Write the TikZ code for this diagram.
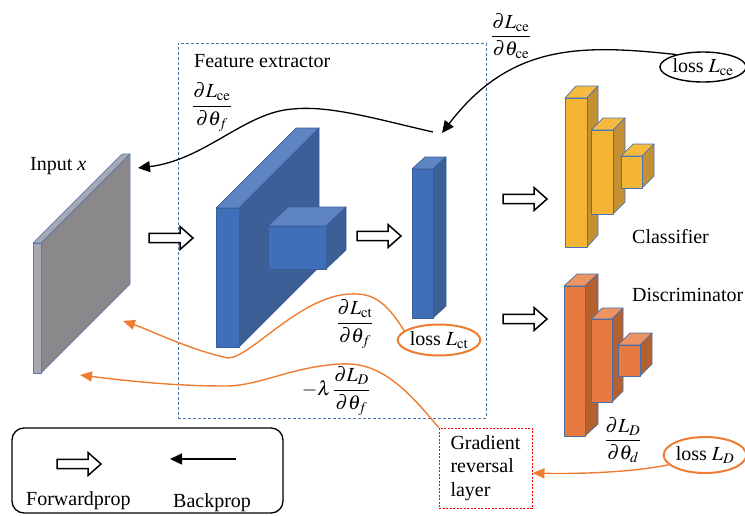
\documentclass[tikz,border=0pt]{standalone}
\usepackage{amsmath}
\usepackage{mathptmx}
\usepackage[no-math]{fontspec}
\setmainfont{Liberation Serif}
\usetikzlibrary{shapes.geometric,arrows.meta}
\newcommand{\fsz}{\fontsize{20}{23.5}\selectfont}
\definecolor{grayside}{HTML}{8B888B}
\definecolor{grayfront}{HTML}{A7A9B2}
\definecolor{grayedge}{HTML}{5B7AB0}
\definecolor{bfront}{HTML}{3F6FB8}
\definecolor{bside}{HTML}{3C5F97}
\definecolor{btop}{HTML}{5E84C4}
\definecolor{bedge}{HTML}{3A5E9A}
\definecolor{yfront}{HTML}{F4B536}
\definecolor{yside}{HTML}{C39134}
\definecolor{ytop}{HTML}{F5BA3E}
\definecolor{yedge}{HTML}{4A72B8}
\definecolor{ofront}{HTML}{E77B3F}
\definecolor{oside}{HTML}{B5612F}
\definecolor{otop}{HTML}{EC9463}
\definecolor{oedge}{HTML}{4A6FA8}
\definecolor{orline}{HTML}{ED7D31}
\definecolor{dashblue}{HTML}{4A72B0}
% #1 x1 #2 y1(top) #3 x2 #4 y2(bottom) #5 dx #6 dy #7 front #8 side #9 top
\newcommand{\cuboid}[9]{%
  \filldraw[fill=#9, cubeface] (#1,#2) -- ({#1+#5},{#2-#6}) -- ({#3+#5},{#2-#6}) -- (#3,#2) -- cycle;
  \filldraw[fill=#8, cubeface] (#3,#2) -- ({#3+#5},{#2-#6}) -- ({#3+#5},{#4-#6}) -- (#3,#4) -- cycle;
  \filldraw[fill=#7, cubeface] (#1,#2) rectangle (#3,#4);
}
\begin{document}
\begin{tikzpicture}[x=1pt,y=-1pt,
  every node/.style={font=\fsz, inner sep=0pt},
  cubeface/.style={line width=0.7pt, line join=round},
  bk/.style={line width=1.3pt, -{Triangle[length=12pt,width=11pt]}},
  orarrow/.style={draw=orline, line width=1.4pt, -{Triangle[length=12pt,width=10pt]}},
  fwdarrow/.style={draw=black, line width=1.5pt, fill=white, line join=miter},
  fwd/.pic={\path[fwdarrow] (0,-4.7) -- (31,-4.7) -- (31,-11.5) -- (44,0) -- (31,11.5) -- (31,4.7) -- (0,4.7) -- cycle;}
]
\useasboundingbox (0,0) rectangle (745,515);

% feature extractor box
\node[draw=dashblue, line width=0.9pt, dash pattern=on 3pt off 2pt, minimum width=308pt, minimum height=375pt] (febox) at (332,230.5) {};
\node[anchor=base west] (fe) at (194,67) {Feature extractor};

% input slab
\begin{scope}[cubeface/.append style={draw=grayedge}]
\cuboid{33}{243}{41}{373}{89}{89}{grayfront}{grayside}{grayfront}
\end{scope}
\node[anchor=base west] (inl) at (30,170) {Input \textit{x}};

% blue feature extractor blocks
\begin{scope}[cubeface/.append style={draw=bedge}]
\cuboid{216}{208}{239}{347}{80}{80}{bfront}{bside}{btop}
\cuboid{268}{226}{326}{269}{20}{19}{bfront}{bside}{btop}
\cuboid{412}{169}{433}{318}{13}{12}{bfront}{bside}{btop}
\end{scope}

% classifier
\begin{scope}[cubeface/.append style={draw=yedge}]
\cuboid{565}{98}{587}{247}{11}{12}{yfront}{yside}{ytop}
\cuboid{591}{130}{613}{214}{12}{12}{yfront}{yside}{ytop}
\cuboid{621}{156}{642}{188}{12}{12}{yfront}{yside}{ytop}
\end{scope}
\node[anchor=base west] (cls) at (632,243) {Classifier};

% discriminator
\begin{scope}[cubeface/.append style={draw=oedge}]
\cuboid{564}{286}{585}{436}{13}{12}{ofront}{oside}{otop}
\cuboid{591}{319}{612}{402}{11}{11}{ofront}{oside}{otop}
\cuboid{618}{345}{640}{376}{12}{12}{ofront}{oside}{otop}
\end{scope}
\node[anchor=base west] (dis) at (632,301) {Discriminator};

% forward arrows
\pic at (149,238) {fwd};
\pic at (357,236) {fwd};
\pic at (503,199) {fwd};
\pic at (503,319) {fwd};

% losses
\node[ellipse, draw, line width=1.4pt, minimum width=83pt, minimum height=30pt] (lce) at (703,67) {loss $L_{\mathrm{ce}}$};
\node[ellipse, draw=orline, line width=2pt, minimum width=82pt, minimum height=31pt] (lct) at (439,340) {loss $L_{\mathrm{ct}}$};
\node[ellipse, draw=orline, line width=2pt, minimum width=80pt, minimum height=36pt] (ld) at (705,455) {loss $L_D$};

% gradient reversal layer
\node[draw=red, line width=0.9pt, dash pattern=on 2pt off 1.5pt, minimum width=93pt, minimum height=80pt, align=left] (grl) at (485.5,468) {Gradient\\reversal\\layer};

% fractions
\node (f1) at (212,107) {$\dfrac{\partial L_{\mathrm{ce}}}{\partial\theta_f}$};
\node (f2) at (511,36) {$\dfrac{\partial L_{\mathrm{ce}}}{\partial\theta_{\mathrm{ce}}}$};
\node (f3) at (355,324) {$\dfrac{\partial L_{\mathrm{ct}}}{\partial\theta_f}$};
\node (f4) at (336,391) {$-\lambda\,\dfrac{\partial L_D}{\partial\theta_f}$};
\node (f5) at (623,440) {$\dfrac{\partial L_D}{\partial\theta_d}$};

% named end points
\coordinate (ceTip) at (442,133);
\coordinate (ceStart) at (433,132);
\coordinate (inTipA) at (138,168);
\coordinate (inTipB) at (123,321);
\coordinate (inTipC) at (80,375);

% black backprop curves
\draw[bk] (lce.155) .. controls (580,44) and (510,44) .. (ceTip);
\draw[bk] (ceStart) .. controls (380,120) and (330,105) .. (293,109)
  .. controls (245,112) and (205,160) .. (inTipA);

% orange backprop curves
\draw[orarrow] (lct.165) .. controls (385,300) and (372,293) .. (350,294)
  .. controls (300,296) and (250,358) .. (228,358)
  .. controls (190,350) and (150,330) .. (inTipB);
\draw[orarrow] (grl.north west) .. controls (400,380) and (375,362) .. (340,364)
  .. controls (290,367) and (260,386) .. (225,386)
  .. controls (170,386) and (120,380) .. (inTipC);
\draw[orarrow] (ld.195) .. controls (630,473) and (570,474) .. ([yshift=-5pt]grl.east);

% legend
\node[draw, rounded corners=12pt, line width=1.3pt, minimum width=271pt, minimum height=85pt] (leg) at (147.5,470.5) {};
\pic at (57,464) {fwd};
\coordinate (bpS) at (236,459);
\coordinate (bpE) at (170,459);
\draw[bk] (bpS) -- (bpE);
\node[anchor=base west] (lf) at (26,505) {Forwardprop};
\node[anchor=base west] (lb) at (173,507) {Backprop};
\end{tikzpicture}
\end{document}
